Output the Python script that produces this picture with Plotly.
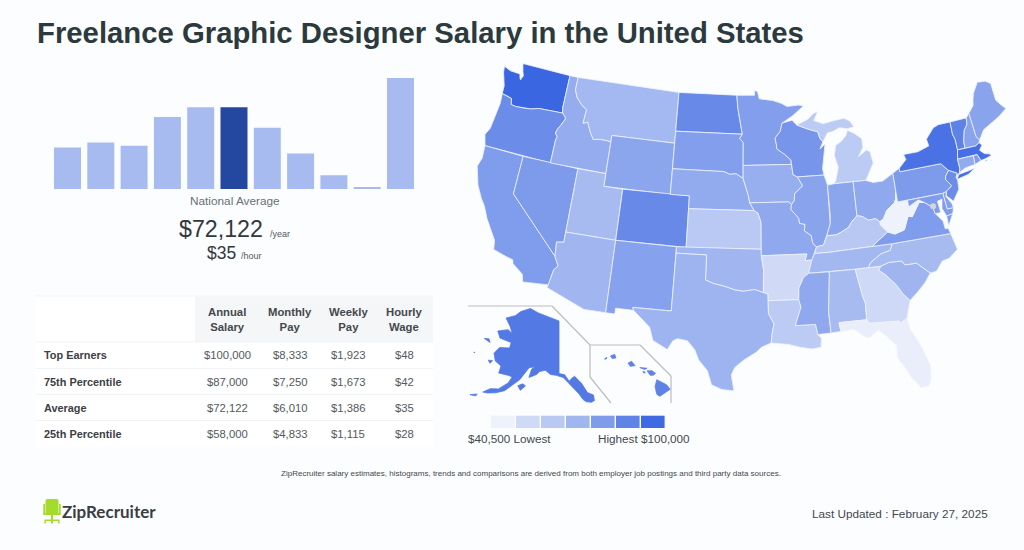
import math
import plotly.graph_objects as go

# ---------- text and table ----------
TITLE = "Freelance Graphic Designer Salary in the United States"
FOOTNOTE = ("ZipRecruiter salary estimates, histograms, trends and comparisons are derived "
            "from both employer job postings and third party data sources.")
UPDATED = "Last Updated : February 27, 2025"
HEADERS = ["Annual<br>Salary", "Monthly<br>Pay", "Weekly<br>Pay", "Hourly<br>Wage"]
ROW_LABELS = ["Top Earners", "75th Percentile", "Average", "25th Percentile"]
ANNUAL = ["$100,000", "$87,000", "$72,122", "$58,000"]
MONTHLY = ["$8,333", "$7,250", "$6,010", "$4,833"]
WEEKLY = ["$1,923", "$1,673", "$1,386", "$1,115"]
HOURLY = ["$48", "$42", "$35", "$28"]

# ---------- histogram ----------
HIST_BINS = list(range(11))
HIST_VALUES = [41.7, 46.7, 43.3, 72.3, 82, 82, 61.3, 35.7, 13.7, 1.3, 111.3]
HIST_HIGHLIGHT = 5

# ---------- choropleth ----------
STATE_CODES = ["WA","OR","CA","NV","ID","MT","WY","UT","AZ","CO","NM","ND","SD","NE","KS","OK","TX",
               "MN","IA","MO","AR","LA","WI","IL","MI","IN","OH","KY","TN","MS","AL","GA","FL","SC",
               "NC","VA","WV","PA","NY","VT","NH","ME","MA","RI","CT","NJ","DE","MD","AK","HI"]
STATE_VALUES = [100000,84000,77000,78000,70000,65000,73000,64000,66000,85000,75000,85000,76000,71000,
                58000,66000,67000,76000,69000,72000,50500,57000,80000,74000,57000,73000,72000,58500,
                65500,72000,63800,51000,42000,66500,64000,77000,40500,78000,95000,88000,74000,74000,
                96000,77000,71000,84000,75000,77000,92000,88000]
MIN_VALUE, MAX_VALUE = 40500, 100000
LEGEND_COLORS = ["#EEF2FB","#CFDAF7","#BAC9F3","#A0B6EF","#7F9CEA","#5F83E6","#3E6AE3"]

WA = [(-124.73,48.38),(-123.9,48.17),(-123.1,48.15),(-122.75,48.15),(-122.65,47.9),(-122.5,47.7),(-122.4,47.95),(-122.3,48.05),(-122.5,48.4),(-122.75,49),(-117.03,49),(-117.04,46.42),(-116.92,46),(-119,45.95),(-119.6,45.92),(-120.5,45.72),(-121.2,45.65),(-122.2,45.6),(-122.75,45.65),(-122.9,46.1),(-123.4,46.2),(-124.05,46.27),(-124.1,46.9),(-124.3,47.3),(-124.62,47.9)]
OR = [(-124.05,46.27),(-123.4,46.2),(-122.9,46.1),(-122.75,45.65),(-122.2,45.6),(-121.2,45.65),(-120.5,45.72),(-119.6,45.92),(-119,45.95),(-116.92,46),(-116.55,45.75),(-116.47,45.6),(-116.85,45),(-117.05,44.75),(-117.22,44.35),(-116.93,44.1),(-117.03,43.83),(-117.03,42),(-124.2,42),(-124.55,42.84),(-124.2,43.4),(-124.1,44.6),(-123.95,45.5)]
CA = [(-124.2,42),(-120,42),(-120,39),(-114.63,35),(-114.15,34.3),(-114.5,33.95),(-114.72,32.72),(-117.12,32.53),(-117.3,33.1),(-118.4,33.75),(-118.5,34.03),(-119.2,34.15),(-120.5,34.45),(-120.65,35.15),(-121.9,36.6),(-122.5,37.5),(-123,38),(-123.7,38.9),(-124.35,40.3),(-124.1,41)]
NV = [(-120,42),(-114.05,42),(-114.05,36.2),(-114.75,36.1),(-114.63,35),(-120,39)]
ID = [(-117.03,49),(-116.05,49),(-116.05,48),(-115.7,47.45),(-114.95,46.9),(-114.35,46.65),(-114.45,45.55),(-113.95,45.7),(-113.45,44.95),(-113,44.45),(-112.3,44.55),(-111.5,44.55),(-111.05,44.48),(-111.05,42),(-117.03,42),(-117.03,43.83),(-116.93,44.1),(-117.22,44.35),(-117.05,44.75),(-116.85,45),(-116.47,45.6),(-116.55,45.75),(-116.92,46),(-117.04,46.42)]
MT = [(-116.05,49),(-104.05,49),(-104.05,45),(-111.05,45),(-111.05,44.48),(-111.5,44.55),(-112.3,44.55),(-113,44.45),(-113.45,44.95),(-113.95,45.7),(-114.45,45.55),(-114.35,46.65),(-114.95,46.9),(-115.7,47.45),(-116.05,48)]
WY = [(-111.05,45),(-104.05,45),(-104.05,41),(-111.05,41)]
UT = [(-114.05,42),(-111.05,42),(-111.05,41),(-109.05,41),(-109.05,37),(-114.05,37)]
AZ = [(-114.05,37),(-109.05,37),(-109.05,31.33),(-111.07,31.33),(-114.8,32.5),(-114.72,32.72),(-114.5,33.95),(-114.15,34.3),(-114.63,35),(-114.75,36.1),(-114.05,36.2)]
CO = [(-109.05,41),(-102.05,41),(-102.05,37),(-109.05,37)]
NM = [(-109.05,37),(-103,37),(-103.05,32),(-106.62,32),(-106.53,31.78),(-108.2,31.78),(-108.2,31.33),(-109.05,31.33)]
ND = [(-104.05,49),(-97.23,49),(-97.1,48),(-96.85,47),(-96.56,45.94),(-104.05,45.94)]
SD = [(-104.05,45.94),(-96.56,45.94),(-96.85,45.6),(-96.45,45.3),(-96.45,43.5),(-96.45,42.49),(-97.2,42.85),(-97.9,42.8),(-98.5,43),(-104.05,43)]
NE = [(-104.05,43),(-98.5,43),(-97.9,42.8),(-97.2,42.85),(-96.45,42.49),(-96.1,41.7),(-95.9,41.2),(-95.75,40.6),(-95.3,40),(-102.05,40),(-102.05,41),(-104.05,41)]
KS = [(-102.05,40),(-95.3,40),(-94.9,39.8),(-94.6,39.1),(-94.62,37),(-102.05,37)]
OK = [(-103,37),(-94.62,37),(-94.62,36.5),(-94.43,35.4),(-94.48,33.64),(-95.3,33.88),(-96.4,33.75),(-97.2,33.85),(-98.1,34.1),(-99.2,34.3),(-100,34.56),(-100,36.5),(-103,36.5)]
TX = [(-103,36.5),(-100,36.5),(-100,34.56),(-99.2,34.3),(-98.1,34.1),(-97.2,33.85),(-96.4,33.75),(-95.3,33.88),(-94.48,33.64),(-94.04,33.55),(-94.04,33),(-94.04,32),(-93.55,31.2),(-93.75,30.4),(-93.85,29.7),(-94.7,29.4),(-95.2,29),(-96.3,28.4),(-97.1,27.8),(-97.4,27.2),(-97.15,25.96),(-98.2,26.05),(-99.1,26.4),(-99.5,27.5),(-100.3,28.3),(-100.7,29.1),(-101.4,29.77),(-102.3,29.88),(-102.7,29.7),(-103.15,28.98),(-104.5,29.6),(-104.9,30.6),(-106.53,31.78),(-106.62,32),(-103.05,32)]
MN = [(-97.23,49),(-95.15,49),(-95.15,49.38),(-94.8,49.3),(-94.6,48.72),(-93,48.55),(-92,48.3),(-91.4,48.05),(-90,48.1),(-89.5,48),(-90.8,47.3),(-92.05,46.75),(-92.3,46.1),(-92.9,45.6),(-92.75,45),(-92.75,44.75),(-91.9,44.3),(-91.25,43.85),(-91.22,43.5),(-96.45,43.5),(-96.45,45.3),(-96.85,45.6),(-96.56,45.94),(-96.85,47),(-97.1,48)]
IA = [(-96.45,43.5),(-91.22,43.5),(-91.1,42.7),(-90.65,42.5),(-90.15,41.8),(-91.05,41.2),(-91.1,40.7),(-91.42,40.38),(-91.7,40.6),(-95.75,40.6),(-95.9,41.2),(-96.1,41.7),(-96.45,42.49)]
MO = [(-95.75,40.6),(-91.7,40.6),(-91.42,40.38),(-91.5,40),(-90.75,39.3),(-90.7,38.9),(-90.15,38.8),(-90.25,38.3),(-89.6,37.9),(-89.5,37.3),(-89.15,37),(-89.4,36.5),(-89.7,36),(-90.37,36),(-90.15,36.5),(-94.62,36.5),(-94.62,37),(-94.6,39.1),(-94.9,39.8),(-95.3,40)]
AR = [(-94.62,36.5),(-90.15,36.5),(-90.37,36),(-89.7,36),(-90.1,35),(-90.6,34.7),(-91.1,33.9),(-91.17,33),(-94.04,33),(-94.04,33.55),(-94.48,33.64),(-94.43,35.4)]
LA = [(-94.04,33),(-91.17,33),(-91,32.4),(-91.6,31),(-89.75,31),(-89.6,30.2),(-89.3,29.9),(-89.4,29.2),(-90.2,29.1),(-91.3,29.3),(-92.3,29.55),(-93.85,29.7),(-93.75,30.4),(-93.55,31.2),(-94.04,32)]
WI = [(-92.05,46.75),(-90.9,46.95),(-90.4,46.55),(-89.1,46.15),(-88.1,45.9),(-87.9,45.35),(-87.6,45.1),(-88,44.55),(-87.4,44.9),(-87.7,43.9),(-87.9,43),(-87.8,42.5),(-90.65,42.5),(-91.1,42.7),(-91.22,43.5),(-91.25,43.85),(-91.9,44.3),(-92.75,44.75),(-92.75,45),(-92.9,45.6),(-92.3,46.1)]
IL = [(-90.65,42.5),(-87.8,42.5),(-87.53,41.7),(-87.53,39.35),(-87.6,38.7),(-87.95,38),(-88.05,37.8),(-88.45,37.1),(-89.15,37),(-89.5,37.3),(-89.6,37.9),(-90.25,38.3),(-90.15,38.8),(-90.7,38.9),(-90.75,39.3),(-91.5,40),(-91.42,40.38),(-91.1,40.7),(-91.05,41.2),(-90.15,41.8)]
MI_LOWER = [(-86.82,41.76),(-84.8,41.76),(-83.45,41.73),(-83.15,42.1),(-82.42,43),(-82.6,43.9),(-82.95,44.07),(-83.9,43.65),(-83.3,44.3),(-83.3,45),(-84.1,45.5),(-84.75,45.78),(-85,45.4),(-85.55,45),(-86.25,44.7),(-86.5,43.9),(-86.2,43),(-86.6,42)]
MI_UPPER = [(-90.4,46.55),(-89.1,46.95),(-88.4,47.37),(-87.9,47.47),(-88.45,46.8),(-87.4,46.5),(-86.2,46.65),(-85,46.75),(-84.4,46.5),(-84,46),(-84.75,45.9),(-85.6,46.05),(-86.5,45.8),(-87,45.75),(-87.6,45.1),(-87.9,45.35),(-88.1,45.9),(-89.1,46.15)]
IN = [(-87.53,41.7),(-87.2,41.75),(-86.82,41.76),(-84.8,41.76),(-84.82,39.1),(-85.4,38.7),(-85.8,38.28),(-86.5,38),(-87.1,37.8),(-88.05,37.8),(-87.95,38),(-87.6,38.7),(-87.53,39.35)]
OH = [(-84.8,41.76),(-83.45,41.73),(-82.7,41.5),(-81.7,41.5),(-80.52,41.98),(-80.52,40.64),(-80.65,40),(-80.85,39.7),(-81.75,39.2),(-82.2,38.6),(-82.6,38.42),(-83,38.7),(-83.7,38.65),(-84.3,39),(-84.82,39.1)]
KY = [(-89.4,36.5),(-88.05,36.5),(-83.68,36.6),(-81.97,37.54),(-82.6,38.17),(-82.6,38.42),(-83,38.7),(-83.7,38.65),(-84.3,39),(-84.82,39.1),(-85.4,38.7),(-85.8,38.28),(-86.5,38),(-87.1,37.8),(-88.05,37.8),(-88.45,37.1),(-89.15,37)]
TN = [(-90.1,35),(-88.2,35),(-85.6,35),(-84.32,35),(-84,35.4),(-82.9,35.95),(-82,36.1),(-81.68,36.59),(-83.68,36.6),(-88.05,36.5),(-89.4,36.5),(-89.7,36)]
MS = [(-90.1,35),(-88.2,35),(-88.1,34.9),(-88.47,31.9),(-88.4,30.25),(-89.6,30.2),(-89.75,31),(-91.6,31),(-91,32.4),(-91.17,33),(-91.1,33.9),(-90.6,34.7)]
AL = [(-88.2,35),(-85.6,35),(-85.18,32.87),(-85,32.3),(-85.05,31),(-87.6,31),(-87.5,30.3),(-88.4,30.25),(-88.47,31.9),(-88.1,34.9)]
GA = [(-85.6,35),(-83.1,35),(-83.35,34.7),(-82.8,34.3),(-81.9,33.4),(-81.4,32.6),(-80.85,32.03),(-81.4,30.7),(-82,30.4),(-82.2,30.57),(-84.86,30.7),(-85.05,31),(-85,32.3),(-85.18,32.87)]
FL = [(-87.6,31),(-85.05,31),(-84.86,30.7),(-82.2,30.57),(-82,30.4),(-81.4,30.7),(-81.25,29.8),(-80.55,28.4),(-80.03,26.8),(-80.15,25.7),(-80.4,25.2),(-81.1,25.15),(-81.8,26.1),(-82.2,26.9),(-82.75,27.8),(-82.65,28.7),(-83.4,29.5),(-84.1,30.1),(-85,29.6),(-85.4,29.7),(-86.3,30.4),(-87.5,30.3)]
SC = [(-83.35,34.7),(-83.1,35),(-82.3,35.2),(-81.05,35.15),(-80.8,34.82),(-79.67,34.8),(-78.55,33.86),(-79.2,33.2),(-80,32.6),(-80.85,32.03),(-81.4,32.6),(-81.9,33.4),(-82.8,34.3)]
NC = [(-84.32,35),(-83.1,35),(-82.3,35.2),(-81.05,35.15),(-80.8,34.82),(-79.67,34.8),(-78.55,33.86),(-77.95,33.9),(-77.2,34.6),(-76.5,34.7),(-75.55,35.25),(-75.87,36.55),(-81.68,36.59),(-82,36.1),(-82.9,35.95),(-84,35.4)]
VA = [(-83.68,36.6),(-81.68,36.59),(-75.87,36.55),(-76,37),(-76.3,37),(-76.35,37.6),(-76.95,38.3),(-77.05,38.8),(-77.5,39.1),(-77.8,39.3),(-78.35,39.4),(-78.9,38.8),(-79.3,38.4),(-79.7,38.5),(-80.3,37.5),(-81.3,37.3),(-81.97,37.54)]
VA_SHORE = [(-75.9,37.95),(-75.25,38.03),(-75.9,37.15)]
WV = [(-80.52,40.64),(-80.52,39.72),(-79.48,39.72),(-79.48,39.2),(-78.4,39.6),(-77.8,39.3),(-78.35,39.4),(-78.9,38.8),(-79.3,38.4),(-79.7,38.5),(-80.3,37.5),(-81.3,37.3),(-81.97,37.54),(-82.6,38.17),(-82.6,38.42),(-82.2,38.6),(-81.75,39.2),(-80.85,39.7),(-80.65,40)]
PA = [(-80.52,41.98),(-79.76,42.27),(-79.76,42),(-75.35,42),(-74.7,41.36),(-75.13,40.97),(-75.2,40.7),(-74.73,40.15),(-75.4,39.8),(-75.8,39.72),(-80.52,39.72),(-80.52,40.64)]
NY = [(-79.76,42.27),(-78.9,42.85),(-79.05,43.27),(-77.5,43.27),(-76.2,43.55),(-76.3,44.1),(-75.3,44.85),(-74.7,45),(-73.35,45),(-73.4,44),(-73.25,43.6),(-73.27,42.75),(-73.5,42.05),(-73.5,41.3),(-73.65,41),(-73.9,40.75),(-73.9,41),(-74.7,41.36),(-75.35,42),(-79.76,42)]
NY_LONG_ISLAND = [(-74,40.6),(-73.75,40.88),(-72.6,40.98),(-71.9,41.07),(-72.8,40.7),(-73.9,40.55)]
VT = [(-73.35,45),(-71.5,45),(-71.6,44.5),(-72.05,44.1),(-72.4,43.3),(-72.46,42.73),(-73.27,42.75),(-73.25,43.6),(-73.4,44)]
NH = [(-71.5,45),(-71.08,45.3),(-70.98,43.4),(-70.7,43.07),(-70.85,42.87),(-71.3,42.7),(-72.46,42.73),(-72.4,43.3),(-72.05,44.1),(-71.6,44.5)]
ME = [(-71.08,45.3),(-70.4,45.8),(-70.25,46.2),(-70,46.7),(-69.23,47.46),(-68.3,47.36),(-67.8,47.07),(-67.8,45.7),(-67.45,45.3),(-67,44.85),(-68,44.4),(-69,44.1),(-70,43.75),(-70.7,43.07),(-70.98,43.4)]
MA = [(-73.5,42.05),(-73.27,42.75),(-71.3,42.7),(-70.85,42.87),(-70.6,42.65),(-71,42.3),(-70.6,41.95),(-70,41.8),(-70.25,42.07),(-69.95,41.67),(-70.65,41.55),(-71.15,41.5),(-71.38,42.02),(-71.8,42.02)]
MA_VINEYARD = [(-70.8,41.35),(-70.5,41.45),(-70.5,41.35)]
MA_NANTUCKET = [(-70.2,41.3),(-69.97,41.3),(-70,41.25)]
RI = [(-71.8,42.02),(-71.38,42.02),(-71.15,41.5),(-71.85,41.32)]
CT = [(-73.5,42.05),(-71.8,42.02),(-71.85,41.32),(-72.9,41.25),(-73.65,41),(-73.5,41.3)]
NJ = [(-74.7,41.36),(-73.9,41),(-74.1,40.7),(-74,40.45),(-74.1,39.75),(-74.9,38.95),(-75.5,39.5),(-75.4,39.8),(-74.73,40.15),(-75.2,40.7),(-75.13,40.97)]
DE = [(-75.8,39.72),(-75.4,39.8),(-75.55,39.45),(-75.1,38.78),(-75.05,38.45),(-75.7,38.46)]
MD = [(-79.48,39.72),(-75.8,39.72),(-75.7,38.46),(-75.05,38.45),(-75.25,38.03),(-75.9,37.95),(-76.2,38.6),(-76,39.3),(-76.5,39.2),(-76.4,38.3),(-77,38.3),(-77.05,38.8),(-77.5,39.1),(-77.8,39.3),(-78.4,39.6),(-79.48,39.2)]
AK = [(-141,69.65),(-141,60.3),(-139,60.1),(-137.5,58.9),(-136.5,59.4),(-135.5,59.7),(-134,58.8),(-133.4,58.4),(-131.8,56.6),(-130,56),(-130,55),(-131,54.8),(-132.5,55),(-133.5,55.5),(-134.5,56.5),(-136,57.5),(-137,58.3),(-139.5,59.6),(-142,60),(-144,60.1),(-146,60.8),(-148,60.5),(-149,59.9),(-151.5,59.2),(-151,60.7),(-150,61.2),(-152,60.9),(-153.5,59.5),(-154.5,58.5),(-156.5,57.3),(-158.5,56),(-161,55.2),(-163.5,54.7),(-164.8,54.6),(-163,55.6),(-160.5,56),(-158,57.5),(-157.2,58.7),(-158.5,58.8),(-162,58.7),(-162,60),(-164.5,60.5),(-166,61.7),(-164.8,63),(-161,63.5),(-161,64.5),(-166,64.6),(-168,65.6),(-164,66.5),(-161.8,66.1),(-163.5,67.1),(-166.8,68.3),(-163,69.3),(-161,70.3),(-156.6,71.3),(-152,70.8),(-146,70.2)]
AK_KODIAK = [(-154.7,57.4),(-153.2,57.9),(-152.2,57.6),(-153.6,56.7)]
AK_ST_LAWRENCE = [(-171.7,63.4),(-169,63.2),(-170,63.7)]
AK_NUNIVAK = [(-167,60.2),(-165.5,60.4),(-166,59.8)]
AK_ST_MATTHEW = [(-172.9,60.4),(-172.6,60.45),(-172.6,60.3)]
AK_UNALASKA = [(-168.1,53.3),(-166.2,53.9),(-166.4,53.5)]
HI_BIG = [(-155.9,20.25),(-155.1,19.85),(-154.8,19.5),(-155.65,18.95),(-155.9,19.1),(-156.05,19.7)]
HI_MAUI = [(-156.7,20.95),(-156.3,20.95),(-156,20.75),(-156.2,20.6),(-156.45,20.6)]
HI_OAHU = [(-158.28,21.55),(-158,21.7),(-157.7,21.35),(-158.1,21.3)]
HI_KAUAI = [(-159.75,22.1),(-159.4,22.23),(-159.3,21.95),(-159.6,21.9)]
HI_MOLOKAI = [(-157.3,21.2),(-156.7,21.15),(-156.9,21.05)]
HI_LANAI = [(-157.05,20.9),(-156.85,20.85),(-156.95,20.75)]
HI_NIIHAU = [(-160.25,21.85),(-160.05,22),(-160.1,21.85)]
DC = (-77.03, 38.9)

STATE_RINGS = {"WA":[WA],"OR":[OR],"CA":[CA],"NV":[NV],"ID":[ID],"MT":[MT],"WY":[WY],"UT":[UT],"AZ":[AZ],"CO":[CO],
    "NM":[NM],"ND":[ND],"SD":[SD],"NE":[NE],"KS":[KS],"OK":[OK],"TX":[TX],"MN":[MN],"IA":[IA],"MO":[MO],"AR":[AR],
    "LA":[LA],"WI":[WI],"IL":[IL],"MI":[MI_LOWER,MI_UPPER],"IN":[IN],"OH":[OH],"KY":[KY],"TN":[TN],"MS":[MS],"AL":[AL],
    "GA":[GA],"FL":[FL],"SC":[SC],"NC":[NC],"VA":[VA,VA_SHORE],"WV":[WV],"PA":[PA],"NY":[NY,NY_LONG_ISLAND],"VT":[VT],
    "NH":[NH],"ME":[ME],"MA":[MA,MA_VINEYARD,MA_NANTUCKET],"RI":[RI],"CT":[CT],"NJ":[NJ],"DE":[DE],"MD":[MD],
    "AK":[AK,AK_KODIAK,AK_ST_LAWRENCE,AK_NUNIVAK,AK_ST_MATTHEW,AK_UNALASKA],
    "HI":[HI_BIG,HI_MAUI,HI_OAHU,HI_KAUAI,HI_MOLOKAI,HI_LANAI,HI_NIIHAU]}

# ---------- projections (conic equal-area, fitted to the page) ----------
W, H = 1024, 550
BG = "#FBFDFF"
MAIN = dict(p1=29.5, p2=45.5, rot=-96, k=733, tx=747.3, ty=-712.4)
INSET_AK = dict(p1=55, p2=65, rot=-141, k=323, tx=559, ty=188.8)
INSET_HI = dict(p1=8, p2=18, rot=-157, k=735, tx=643.5, ty=-2710.8)

def project(lon, lat, p1, p2, rot, k, tx, ty):
    s1, s2 = math.sin(math.radians(p1)), math.sin(math.radians(p2))
    n = (s1 + s2) / 2
    c = math.cos(math.radians(p1)) ** 2 + 2 * n * s1
    rho = math.sqrt(c - 2 * n * math.sin(math.radians(lat))) / n
    theta = n * math.radians(lon - rot)
    return tx + k * rho * math.sin(theta), ty + k * rho * math.cos(theta)

def state_color(v):
    t = (v - MIN_VALUE) / (MAX_VALUE - MIN_VALUE)
    lo, hi = (0xEE, 0xF2, 0xFB), (0x3B, 0x66, 0xE2)
    return "rgb(%d,%d,%d)" % tuple(round(a + (b - a) * t) for a, b in zip(lo, hi))

fig = go.Figure()

for code, val in zip(STATE_CODES, STATE_VALUES):
    params = INSET_AK if code == "AK" else INSET_HI if code == "HI" else MAIN
    xs, ys = [], []
    for ring in STATE_RINGS[code]:
        pts = [project(lon, lat, **params) for lon, lat in ring]
        pts.append(pts[0])
        xs += [p[0] for p in pts] + [None]
        ys += [p[1] for p in pts] + [None]
    inset = code in ("AK", "HI")
    fig.add_trace(go.Scatter(x=xs, y=ys, mode="lines", fill="toself", fillcolor=state_color(val),
                             line=dict(color=state_color(val) if inset else "#EDF2FD", width=0.8),
                             hoverinfo="text", text=code, showlegend=False, xaxis="x", yaxis="y"))

dcx, dcy = project(*DC, **MAIN)
fig.add_trace(go.Scatter(x=[dcx], y=[dcy], mode="markers", marker=dict(size=6, color="#D4D6DA"),
                         hoverinfo="skip", showlegend=False, xaxis="x", yaxis="y"))

# Histogram
fig.add_trace(go.Bar(x=HIST_BINS, y=HIST_VALUES,
                     marker=dict(color=["#2447A0" if i == HIST_HIGHLIGHT else "#A7BBF0" for i in HIST_BINS],
                                 line=dict(width=0)),
                     hoverinfo="skip", showlegend=False, xaxis="x2", yaxis="y2"))

shapes, ann = [], []

def text(x, y, s, size, color, anchor="center", bold=False, family="Liberation Sans"):
    ann.append(dict(x=x, y=y, xref="x", yref="y", text=f"<b>{s}</b>" if bold else s, showarrow=False,
                    xanchor=anchor, yanchor="middle", align="center",
                    font=dict(size=size, color=color, family=family)))

def rect(x0, y0, x1, y1, color):
    shapes.append(dict(type="rect", xref="x", yref="y", x0=x0, y0=y0, x1=x1, y1=y1,
                       fillcolor=color, line=dict(width=0), layer="below"))

def seg(x0, y0, x1, y1, color, width=1):
    shapes.append(dict(type="line", xref="x", yref="y", x0=x0, y0=y0, x1=x1, y1=y1,
                       line=dict(color=color, width=width), layer="below"))

# Headline block
text(35, 32, TITLE, 29.3, "#2C3A3D", "left", True)
text(234.5, 201, "National Average", 11.8, "#6B6F73")
text(177, 229, "$72,122", 23.2, "#33383C", "left")
text(268, 234, "/year", 9, "#55595D", "left")
text(205, 253, "$35", 17.5, "#33383C", "left")
text(239, 255.5, "/hour", 9, "#55595D", "left")

# Table
rect(36, 296, 433, 447, "#FFFFFF")
rect(195, 296.5, 433, 342, "#F4F6F8")
seg(36, 296, 433, 296, "#F1F3F5")
COL_CENTERS = [227, 290, 348, 404]
ROW_CENTERS = [355.3, 381.7, 408, 434.3]
for y in (342, 368.5, 394.5, 420.5):
    seg(36, y, 433, y, "#F1F3F5")
for cx, h in zip(COL_CENTERS, HEADERS):
    text(cx, 319.2, h, 11.3, "#44484C", bold=True)
for cy, label, a, m, w_, hr in zip(ROW_CENTERS, ROW_LABELS, ANNUAL, MONTHLY, WEEKLY, HOURLY):
    text(42, cy, label, 10.9, "#3C4044", "left", True)
    for cx, s in zip(COL_CENTERS, (a, m, w_, hr)):
        text(cx, cy, s, 11.3, "#55595D")

# Inset frames
INSET_COLOR = "#BDBDBD"
for a, b in [((468, 306), (552, 306)), ((552, 306), (590, 345)), ((590, 345), (590, 377)), ((590, 377), (611, 403)),
             ((590, 345), (640, 345)), ((640, 345), (671, 376)), ((671, 376), (671, 403))]:
    seg(a[0], a[1], b[0], b[1], INSET_COLOR, 1.2)

# Map legend
for i, c in enumerate(LEGEND_COLORS):
    rect(491 + i * 25, 415.7, 491 + i * 25 + 23.6, 428, c)
text(466, 438, "$40,500 Lowest", 11.7, "#44484C", "left")
text(692, 438, "Highest $100,000", 11.7, "#44484C", "right")

# Footer
text(530.5, 473, FOOTNOTE, 8.03, "#44484C")
text(990, 513, UPDATED, 11.75, "#44484C", "right")
text(59.5, 511, "ZipRecruiter", 17, "#3A3E42", "left", True, "Lato")
GREEN = "#A5DA2E"
shapes.append(dict(type="path", xref="x", yref="y", fillcolor=GREEN, line=dict(width=0),
                   path="M47,499 L57,499 Q58.5,499 58.5,501 L58.5,513 L45.5,513 L45.5,501 Q45.5,499 47,499 Z"))
rect(43.3, 504, 45, 514, GREEN)
rect(59, 504, 60.7, 514, GREEN)
rect(43.3, 513, 60.7, 515, GREEN)
rect(51, 515, 53, 520, GREEN)
rect(44.5, 519.5, 59.5, 521, GREEN)
rect(44.5, 521, 46, 523.5, GREEN)
rect(51, 521, 53, 523.5, GREEN)
rect(58, 521, 59.5, 523.5, GREEN)

blank = dict(visible=False, fixedrange=True)
fig.update_layout(
    width=W, height=H, margin=dict(l=0, r=0, t=0, b=0),
    paper_bgcolor=BG, plot_bgcolor="rgba(0,0,0,0)", bargap=0.19, showlegend=False,
    xaxis=dict(range=[0, W], domain=[0, 1], **blank),
    yaxis=dict(range=[H, 0], domain=[0, 1], **blank),
    xaxis2=dict(range=[-0.5, 10.5], domain=[50.85 / W, 417.15 / W], anchor="y2", **blank),
    yaxis2=dict(range=[0, 111.3], domain=[1 - 189 / H, 1 - 78 / H], anchor="x2", **blank),
    shapes=shapes, annotations=ann,
)
fig.write_html("out.html", config={"displayModeBar": False},
               post_script="document.body.style.margin='0';document.body.style.background='%s';" % BG)
